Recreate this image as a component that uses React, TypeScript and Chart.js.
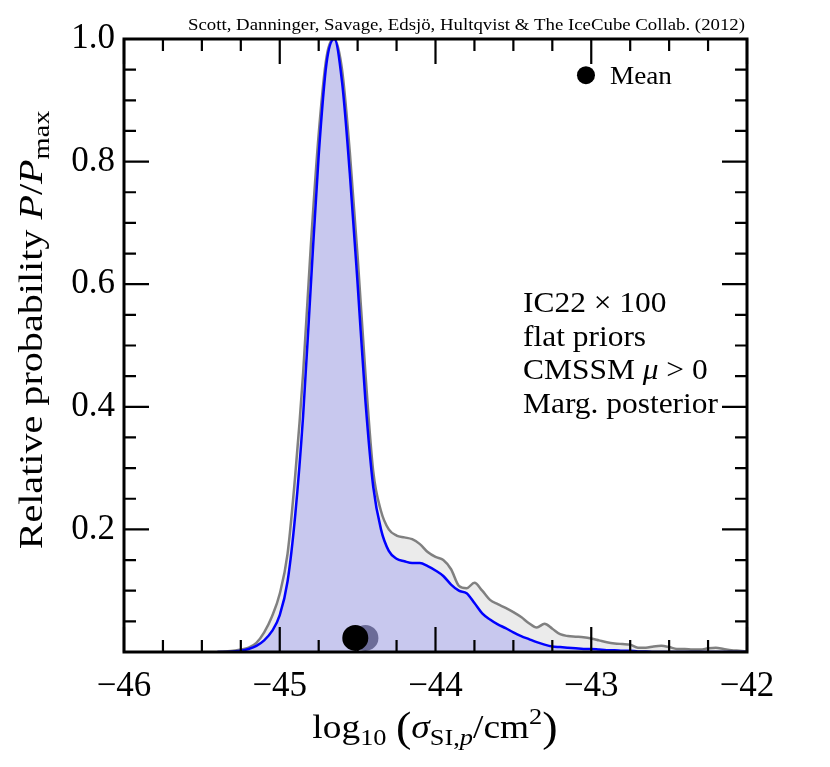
import React, { useEffect, useRef } from "react";
import { Chart, registerables } from "chart.js";

Chart.register(...registerables);

// ---------------- data ----------------
const xValues = [
  -45.40, -45.35, -45.30, -45.25, -45.20, -45.15, -45.10, -45.05, -45.00, -44.95,
  -44.90, -44.85, -44.80, -44.75, -44.70, -44.65, -44.60, -44.55, -44.50, -44.45,
  -44.40, -44.35, -44.30, -44.25, -44.20, -44.15, -44.10, -44.05, -44.00, -43.95,
  -43.90, -43.85, -43.80, -43.75, -43.70, -43.65, -43.60, -43.55, -43.50, -43.45,
  -43.40, -43.35, -43.30, -43.25, -43.20, -43.15, -43.10, -43.05, -43.00, -42.95,
  -42.90, -42.85, -42.80, -42.75, -42.70, -42.65, -42.60, -42.55, -42.50, -42.45,
  -42.40, -42.35, -42.30, -42.25, -42.20, -42.15, -42.10, -42.05, -42.00,
];

// marginalised posterior (blue)
const posteriorValues = [
  0, 0, 0.001, 0.002, 0.005, 0.010, 0.019, 0.034, 0.060, 0.115,
  0.225, 0.385, 0.600, 0.810, 0.960, 1.000, 0.930, 0.780, 0.600, 0.410,
  0.270, 0.200, 0.165, 0.152, 0.148, 0.145, 0.145, 0.140, 0.133, 0.124,
  0.110, 0.100, 0.096, 0.080, 0.063, 0.053, 0.045, 0.039, 0.032, 0.026,
  0.021, 0.016, 0.012, 0.009, 0.008, 0.007, 0.006, 0.005, 0.005, 0.004,
  0.003, 0.003, 0.002, 0.002, 0.001, 0.001, 0, 0, 0, 0,
  0, 0, 0, 0, 0, 0, 0, 0, 0,
];

// comparison posterior (grey)
const comparisonValues = [
  0, 0.001, 0.002, 0.004, 0.007, 0.015, 0.032, 0.058, 0.095, 0.160,
  0.290, 0.455, 0.665, 0.845, 0.970, 1.000, 0.950, 0.815, 0.645, 0.455,
  0.295, 0.230, 0.200, 0.190, 0.187, 0.184, 0.176, 0.163, 0.155, 0.150,
  0.135, 0.108, 0.104, 0.113, 0.100, 0.085, 0.078, 0.072, 0.065, 0.057,
  0.047, 0.040, 0.046, 0.038, 0.029, 0.026, 0.025, 0.024, 0.022, 0.019,
  0.016, 0.014, 0.013, 0.012, 0.007, 0.007, 0.009, 0.010, 0.008, 0.005,
  0.005, 0.004, 0.004, 0.006, 0.007, 0.005, 0.003, 0.002, 0.001,
];

const meanPosterior = { x: -44.515, y: 0.023 };
const meanComparison = { x: -44.45, y: 0.023 };
const legendMarker = { x: -43.034, y: 0.941 };

const xTickValues = [-46, -45, -44, -43, -42];
const yTickValues = [0.2, 0.4, 0.6, 0.8, 1.0];
const annotationLines = ["IC22 \u00d7 100", "flat priors", "CMSSM \u03bc > 0", "Marg. posterior"];
const creditText = "Scott, Danninger, Savage, Edsj\u00f6, Hultqvist & The IceCube Collab. (2012)";

// ---------------- helpers ----------------
const FONT = "'Liberation Serif', 'Times New Roman', serif";

type Seg = { t: string; size: number; italic?: boolean; dy?: number };

function segFont(s: Seg) {
  return `${s.italic ? "italic " : ""}${s.size}px ${FONT}`;
}

function measureRich(ctx: CanvasRenderingContext2D, segs: Seg[]) {
  return segs.map((s) => {
    ctx.font = segFont(s);
    return ctx.measureText(s.t).width;
  });
}

function drawRich(
  ctx: CanvasRenderingContext2D,
  segs: Seg[],
  x: number,
  y: number,
  align: "left" | "center" | "right",
  stretch: number
) {
  const ws = measureRich(ctx, segs);
  const total = ws.reduce((a, b) => a + b, 0) * stretch;
  const start = align === "left" ? x : align === "center" ? x - total / 2 : x - total;
  ctx.save();
  ctx.translate(start, y);
  ctx.scale(stretch, 1);
  ctx.textBaseline = "alphabetic";
  ctx.textAlign = "left";
  let cx = 0;
  segs.forEach((s, i) => {
    ctx.font = segFont(s);
    ctx.fillText(s.t, cx, s.dy || 0);
    cx += ws[i];
  });
  ctx.restore();
}

function fitStretch(ctx: CanvasRenderingContext2D, segs: Seg[], target: number) {
  const w = measureRich(ctx, segs).reduce((a, b) => a + b, 0);
  return target / w;
}

const framePlugin = {
  id: "frame",
  afterDatasetsDraw(chart: any) {
    const { ctx, chartArea: a, scales } = chart;
    const xs = scales.x;
    const ys = scales.y;
    ctx.save();
    ctx.strokeStyle = "#000";
    ctx.lineCap = "butt";
    ctx.lineWidth = 2.2;
    for (let k = 0; k <= 16; k++) {
      const v = -46 + k * 0.25;
      const px = xs.getPixelForValue(v);
      const len = k % 4 === 0 ? 25 : 12;
      ctx.beginPath();
      ctx.moveTo(px, a.bottom);
      ctx.lineTo(px, a.bottom - len);
      ctx.moveTo(px, a.top);
      ctx.lineTo(px, a.top + len);
      ctx.stroke();
    }
    for (let k = 0; k <= 20; k++) {
      const v = k * 0.05;
      const py = ys.getPixelForValue(v);
      const len = k % 4 === 0 ? 25 : 12;
      ctx.beginPath();
      ctx.moveTo(a.left, py);
      ctx.lineTo(a.left + len, py);
      ctx.moveTo(a.right, py);
      ctx.lineTo(a.right - len, py);
      ctx.stroke();
    }
    ctx.lineWidth = 3;
    ctx.strokeRect(a.left, a.top, a.right - a.left, a.bottom - a.top);
    ctx.restore();
  },
  afterDraw(chart: any) {
    const { ctx, scales } = chart;
    const xs = scales.x;
    const ys = scales.y;
    ctx.save();
    ctx.fillStyle = "#000";

    // credit line
    const credit: Seg[] = [{ t: creditText, size: 16 }];
    drawRich(ctx, credit, 745, 30, "right", fitStretch(ctx, credit, 557));

    // legend text
    const lx = xs.getPixelForValue(legendMarker.x);
    const ly = ys.getPixelForValue(legendMarker.y);
    const mean: Seg[] = [{ t: "Mean", size: 26 }];
    drawRich(ctx, mean, lx + 24, ly + 9, "left", fitStretch(ctx, mean, 62));

    // annotation block
    const lines: Seg[][] = [
      [{ t: annotationLines[0], size: 29 }],
      [{ t: annotationLines[1], size: 29 }],
      [
        { t: "CMSSM ", size: 29 },
        { t: "\u03bc", size: 29, italic: true },
        { t: " > 0", size: 29 },
      ],
      [{ t: annotationLines[3], size: 29 }],
    ];
    const st = fitStretch(ctx, lines[3], 195);
    const baselines = [312, 345.5, 379, 412.5];
    lines.forEach((l, i) => drawRich(ctx, l, 523, baselines[i], "left", st));

    // x axis title
    const xt: Seg[] = [
      { t: "log", size: 34 },
      { t: "10", size: 24, dy: 7 },
      { t: " ", size: 34 },
      { t: "(", size: 42, dy: 3 },
      { t: "\u03c3", size: 34, italic: true },
      { t: "SI,", size: 24, dy: 7 },
      { t: "p", size: 24, italic: true, dy: 7 },
      { t: "/cm", size: 34 },
      { t: "2", size: 24, dy: -14 },
      { t: ")", size: 42, dy: 3 },
    ];
    drawRich(ctx, xt, 435, 738, "center", 1.1);

    // y axis title
    ctx.save();
    ctx.translate(42, 330);
    ctx.rotate(-Math.PI / 2);
    const yt: Seg[] = [
      { t: "Relative probability ", size: 34 },
      { t: "P", size: 34, italic: true },
      { t: "/", size: 34 },
      { t: "P", size: 34, italic: true },
      { t: "max", size: 24, dy: 7 },
    ];
    drawRich(ctx, yt, 0, 0, "center", 1.18);
    ctx.restore();

    ctx.restore();
  },
};

export default function App() {
  const ref = useRef<HTMLCanvasElement | null>(null);

  useEffect(() => {
    document.body.style.margin = "0";
    const canvas = ref.current;
    if (!canvas) return;
    const tickFont = { family: FONT, size: 35 };
    const chart = new Chart(canvas, {
      type: "line",
      data: {
        datasets: [
          {
            type: "scatter",
            label: "legend",
            data: [legendMarker],
            pointRadius: 9,
            pointBackgroundColor: "#000",
            pointBorderWidth: 0,
            order: 0,
          } as any,
          {
            type: "scatter",
            label: "mean posterior",
            data: [meanPosterior],
            pointRadius: 13,
            pointBackgroundColor: "#000",
            pointBorderWidth: 0,
            order: 1,
          } as any,
          {
            type: "scatter",
            label: "mean comparison",
            data: [meanComparison],
            pointRadius: 13,
            pointBackgroundColor: "#6c6c98",
            pointBorderWidth: 0,
            order: 2,
          } as any,
          {
            label: "posterior",
            data: xValues.map((x, i) => ({ x, y: posteriorValues[i] })),
            borderColor: "#0000ff",
            borderWidth: 2.5,
            backgroundColor: "rgb(200,200,238)",
            fill: "origin",
            pointRadius: 0,
            cubicInterpolationMode: "monotone",
            order: 3,
          },
          {
            label: "comparison",
            data: xValues.map((x, i) => ({ x, y: comparisonValues[i] })),
            borderColor: "#808080",
            borderWidth: 2.5,
            backgroundColor: "rgb(235,235,235)",
            fill: "origin",
            pointRadius: 0,
            cubicInterpolationMode: "monotone",
            order: 4,
          },
        ],
      },
      options: {
        responsive: false,
        animation: false,
        events: [],
        layout: { padding: { left: 0, right: 83, top: 39, bottom: 0 } },
        plugins: { legend: { display: false }, tooltip: { enabled: false } },
        scales: {
          x: {
            type: "linear",
            min: -46,
            max: -42,
            afterFit: (s: any) => {
              s.height = 115;
            },
            afterBuildTicks: (s: any) => {
              s.ticks = xTickValues.map((v) => ({ value: v }));
            },
            ticks: {
              font: tickFont,
              color: "#000",
              padding: 6,
              maxRotation: 0,
              autoSkip: false,
              callback: (v: any) => "\u2212" + Math.abs(Number(v)).toFixed(0),
            },
            grid: { display: false },
            border: { display: false },
          },
          y: {
            type: "linear",
            min: 0,
            max: 1,
            afterFit: (s: any) => {
              s.width = 124;
            },
            afterBuildTicks: (s: any) => {
              s.ticks = yTickValues.map((v) => ({ value: v }));
            },
            ticks: {
              font: tickFont,
              color: "#000",
              padding: 1,
              autoSkip: false,
              callback: (v: any) => Number(v).toFixed(1),
            },
            grid: { display: false },
            border: { display: false },
          },
        },
      },
      plugins: [framePlugin],
    });
    return () => chart.destroy();
  }, []);

  return (
    <div style={{ width: 830, height: 767 }}>
      <canvas ref={ref} width={830} height={767} style={{ display: "block" }} />
    </div>
  );
}
